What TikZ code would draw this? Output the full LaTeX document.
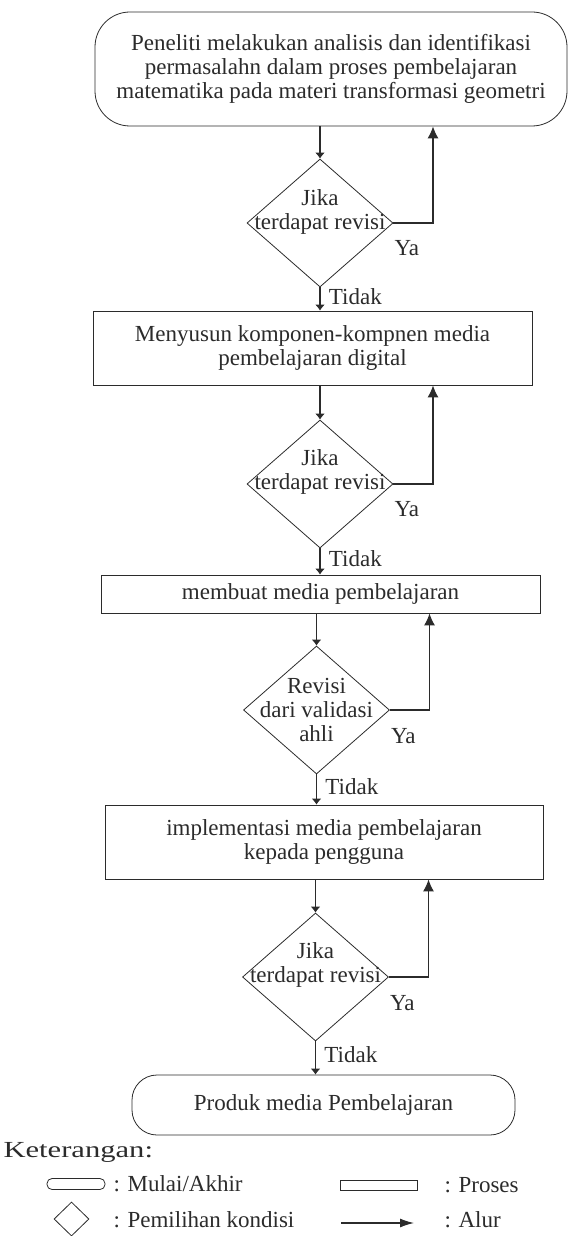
\documentclass[tikz,border=0pt]{standalone}
\usepackage{fontspec}
\setmainfont{Liberation Serif}
\usetikzlibrary{shapes.geometric,arrows.meta,positioning}
\definecolor{ink}{HTML}{2B2B2B}

\tikzset{
    terminal/.style={draw=ink, line width=0.8pt, rounded corners=#1, align=center, inner sep=0pt},
    terminal/.default=35pt,
    process/.style={draw=ink, line width=0.8pt, align=center, inner sep=0pt},
    decision/.style={diamond, draw=ink, line width=0.8pt, inner sep=0pt, minimum width=146pt, minimum height=128pt},
    dlabel/.style={align=center},
    flow/.style={draw=ink, line width=1.2pt, -{Latex[length=6pt,width=10pt]}},
    back/.style={draw=ink, line width=1.2pt, -{Latex[length=12pt,width=11pt]}},
    legendtext/.style={anchor=west}
}

\begin{document}
\begin{tikzpicture}[x=1pt, y=-1pt, font=\fontsize{23}{24}\selectfont, text=ink]

            \useasboundingbox (0,0) rectangle (569,1236);

            \node[terminal, minimum width=472pt, minimum height=114pt] (start) at (331,69)
                {Peneliti melakukan analisis dan identifikasi\\permasalahn dalam proses pembelajaran\\matematika pada materi transformasi geometri};
            \node[decision, label={[dlabel, yshift=11pt]center:Jika\\terdapat revisi}] (cek1) at (320,223) {};
            \node[process, minimum width=439pt, minimum height=74pt] (susun) at (312.5,348)
                {Menyusun komponen-kompnen media\\pembelajaran digital};
            \node[decision, label={[dlabel, yshift=12pt]center:Jika\\terdapat revisi}] (cek2) at (320,484) {};
            \node[process, minimum width=439pt, minimum height=38pt] (buat) at (320.5,594)
                {membuat media pembelajaran};
            \node[decision, label={[dlabel]center:Revisi\\dari validasi\\ahli}] (cek3) at (316.5,710) {};
            \node[process, minimum width=438pt, minimum height=74pt] (impl) at (324,842)
                {implementasi media pembelajaran\\kepada pengguna};
            \node[decision, label={[dlabel, yshift=12pt]center:Jika\\terdapat revisi}] (cek4) at (315.5,977) {};
            \node[terminal=25pt, minimum width=383pt, minimum height=60pt] (produk) at (323.5,1105)
                {Produk media Pembelajaran};

            \draw[flow] (start.south -| cek1.north) -- (cek1.north);
            \draw[flow] (cek1.south) -- node[right=5pt, pos=0.4] {Tidak} (cek1.south |- susun.north);
            \draw[back] (cek1.east) -| node[pos=0.17, below=14pt] {Ya} ([xshift=113pt]cek1.center |- start.south);

            \draw[flow] (susun.south -| cek2.north) -- (cek2.north);
            \draw[flow] (cek2.south) -- node[right=5pt, pos=0.4] {Tidak} (cek2.south |- buat.north);
            \draw[back] (cek2.east) -| node[pos=0.17, below=14pt] {Ya} ([xshift=113pt]cek2.center |- susun.south);

            \draw[flow] (buat.south -| cek3.north) -- (cek3.north);
            \draw[flow] (cek3.south) -- node[right=5pt, pos=0.4] {Tidak} (cek3.south |- impl.north);
            \draw[back] (cek3.east) -| node[pos=0.17, below=14pt] {Ya} ([xshift=113pt]cek3.center |- buat.south);

            \draw[flow] (impl.south -| cek4.north) -- (cek4.north);
            \draw[flow] (cek4.south) -- node[right=5pt, pos=0.4] {Tidak} (cek4.south |- produk.north);
            \draw[back] (cek4.east) -| node[pos=0.17, below=14pt] {Ya} ([xshift=113pt]cek4.center |- impl.south);

            % keterangan
            \node[legendtext] (ket) at (0,1152) {\scalebox{1.33}[1]{Keterangan:}};
            \node[terminal=5pt, minimum width=58pt, minimum height=11pt] (lgterm) at (76,1184) {};
            \node[legendtext] (lgtermtext) at (110,1184) {: Mulai/Akhir};
            \node[process, minimum width=77pt, minimum height=10pt] (lgproc) at (378.5,1185) {};
            \node[legendtext] (lgproctext) at (441,1185) {: Proses};
            \node[decision, minimum width=35pt, minimum height=34pt] (lgdec) at (71.5,1219) {};
            \node[legendtext] (lgdectext) at (110,1220) {: Pemilihan kondisi};
            \coordinate (lgA) at (341,1223);
            \coordinate (lgB) at (414,1223);
            \draw[draw=ink, line width=1.2pt, -{Latex[length=14pt,width=9pt]}] (lgA) -- (lgB);
            \node[legendtext] (lgalurtext) at (441,1220) {: Alur};

        \end{tikzpicture}
\end{document}
